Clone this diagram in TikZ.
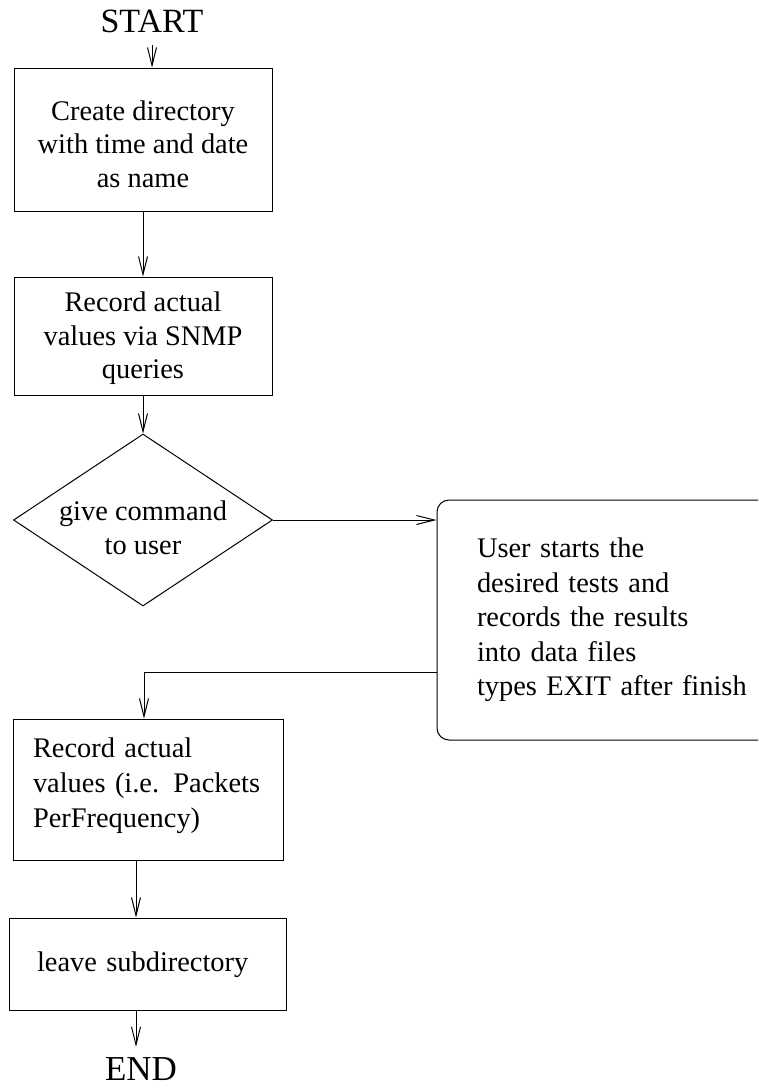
\documentclass[tikz,border=0pt]{standalone}
\usepackage{fontspec}
\setmainfont{Liberation Serif}
\usetikzlibrary{shapes.geometric,arrows.meta}
\begin{document}
\begin{tikzpicture}[x=1pt,y=-1pt,
  every node/.style={font=\fontsize{28.4pt}{33.5pt}\selectfont},
  box/.style={draw, line width=1pt, rectangle, inner sep=0pt, align=center},
  arr/.style={line width=1pt, -{Straight Barb[length=18pt,width=9pt,line width=1pt]}},
  term/.style={inner sep=0pt, font=\fontsize{34pt}{40pt}\selectfont}]
\clip (0,0) rectangle (758,1090);
% terminals
\node[term, anchor=base] (start) at (152,32) {START};
\node[term, anchor=base, inner ysep=10pt, font=\fontsize{35pt}{40pt}\selectfont] (end) at (141,1080) {END};
% process steps
\node[box, minimum width=258pt, minimum height=143pt] (b1) at (143,139.5)
  {\rule{0pt}{29pt}Create directory\\with time and date\\as name};
\node[box, minimum width=258pt, minimum height=118pt] (b2) at (143,336)
  {\rule{0pt}{25pt}Record actual\\values via SNMP\\queries};
\node[draw, diamond, line width=1pt, minimum width=259pt, minimum height=172pt, inner sep=0pt,
  label={[align=center, yshift=-8pt]center:give command\\to user}] (dec) at (143,520) {};
\node[box, rounded corners=12pt, minimum width=363pt, minimum height=240pt,
  text width=283pt, align=left, font=\fontsize{28.4pt}{34.5pt}\selectfont] (user) at (618.5,620)
  {User starts the\\desired tests and\\records the results\\into data files\\types EXIT after finish};
\node[box, minimum width=270pt, minimum height=141pt, text width=230pt, align=left,
  font=\fontsize{28.4pt}{35pt}\selectfont] (b3) at (148,789.5)
  {Record actual\\values (i.e. Packets\\PerFrequency)\rule[-14pt]{0pt}{0pt}};
\node[box, minimum width=277pt, minimum height=92pt, text width=221pt, align=left] (b4) at (147.5,964)
  {\rule{0pt}{22pt}leave subdirectory};
\coordinate (turn) at (144,672);
% connectors
\draw[arr] ([yshift=-13pt]start.base) -- (start.base |- b1.north);
\draw[arr] (b1.south) -- (b2.north);
\draw[arr] (b2.south) -- (dec.north);
\draw[arr] (dec.east) -- (dec.east -| user.west);
\draw[arr] (user.west |- turn) -- (turn) -- (turn |- b3.north);
\draw[arr] ([xshift=-12pt]b3.south) -- ([xshift=-12pt]b3.south |- b4.north);
\draw[arr] ([xshift=-11.5pt]b4.south) -- ([xshift=-11.5pt]b4.south |- end.north);
\end{tikzpicture}
\end{document}
